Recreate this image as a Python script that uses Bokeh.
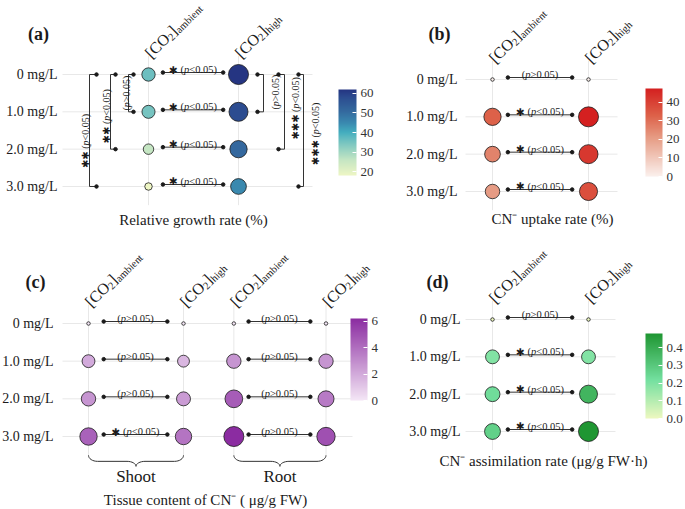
import math
from bokeh.plotting import figure
from bokeh.models import (Range1d, FixedTicker, Label, ColorBar, LinearColorMapper,
                          ColumnDataSource, PrintfTickFormatter, Grid)
from bokeh.layouts import row, column
from bokeh.embed import file_html
from bokeh.resources import INLINE

# ---------------- data ----------------
conc_labels = ["0 mg/L", "1.0 mg/L", "2.0 mg/L", "3.0 mg/L"]
rows = [0, 1, 2, 3]

# (a) Relative growth rate (%)
rgr_ambient = [36, 35, 26, 18]
rgr_high = [62, 58, 51, 45]
rgr_pair_sig = ["*", "*", "*", "*"]
rgr_pair_p = ["p<0.05", "p<0.05", "p<0.05", "p<0.05"]
rgr_ambient_brackets = [(0, 1, "", "p>0.05"), (0, 2, "**", "p<0.05"), (0, 3, "**", "p<0.05")]
rgr_high_brackets = [(0, 1, "", "p>0.05"), (0, 2, "***", "p<0.05"), (0, 3, "***", "p<0.05")]
rgr_ticks = [20, 30, 40, 50, 60]

# (b) CN- uptake rate (%)
upt_ambient = [0, 33, 26, 21]
upt_high = [0, 47.5, 42, 37]
upt_pair_sig = ["", "*", "*", "*"]
upt_pair_p = ["p>0.05", "p<0.05", "p<0.05", "p<0.05"]
upt_ticks = [0, 10, 20, 30, 40]

# (c) Tissue content of CN- (ug/g FW)
tis_shoot_ambient = [0, 2.0, 2.7, 4.4]
tis_shoot_high = [0, 1.6, 2.5, 3.8]
tis_root_ambient = [0, 2.7, 4.6, 6.2]
tis_root_high = [0, 2.7, 3.6, 5.0]
tis_shoot_sig = ["", "", "", "*"]
tis_shoot_p = ["p>0.05", "p>0.05", "p>0.05", "p<0.05"]
tis_root_sig = ["", "", "", ""]
tis_root_p = ["p>0.05", "p>0.05", "p>0.05", "p>0.05"]
tis_ticks = [0, 2, 4, 6]

# (d) CN- assimilation rate (ug/g FW h)
asm_ambient = [0, 0.19, 0.23, 0.27]
asm_high = [0, 0.19, 0.37, 0.48]
asm_pair_sig = ["", "*", "*", "*"]
asm_pair_p = ["p>0.05", "p<0.05", "p<0.05", "p<0.05"]
asm_ticks = [0.0, 0.1, 0.2, 0.3, 0.4]

# ---------------- styling helpers ----------------
SERIF = "Liberation Serif"
SYM = "DejaVu Sans"
INK = "#1a1a1a"
ADV = {' ': 250, '(': 333, ')': 333, '<': 564, '>': 564, '.': 250, '[': 333, ']': 333,
       'C': 667, 'O': 722, 'a': 444, 'm': 778, 'b': 500, 'i': 278, 'e': 444, 'n': 500,
       't': 278, 'h': 500, 'g': 500, 'p': 500}


def adv(t, size, font):
    if font == SYM:
        return sum(0.84 if c != ' ' else 0.318 for c in t) * size
    return sum(ADV.get(c, 500) for c in t) / 1000.0 * size


def ramp(stops, n=256):
    def h2r(h):
        return [int(h[i:i + 2], 16) for i in (1, 3, 5)]
    out = []
    for i in range(n):
        t = i / (n - 1)
        for (t0, c0), (t1, c1) in zip(stops[:-1], stops[1:]):
            if t <= t1 + 1e-12:
                f = (t - t0) / (t1 - t0) if t1 > t0 else 0.0
                a, b = h2r(c0), h2r(c1)
                out.append("#%02x%02x%02x" % tuple(round(a[k] + (b[k] - a[k]) * f) for k in range(3)))
                break
    return out


def run(p, x, y, pieces, angle=0.0, align="center", ox=0.0, oy=0.0, color=INK):
    widths = [adv(t, s, f) for (t, f, s, st, sh) in pieces]
    total = sum(widths)
    d = {"left": 0.0, "center": -total / 2.0, "right": -total}[align]
    ca, sa = math.cos(angle), math.sin(angle)
    for (t, f, s, st, sh), w in zip(pieces, widths):
        xo = ox + d * ca + sh * sa
        yo = oy + d * sa - sh * ca
        p.add_layout(Label(x=x, y=y, x_offset=xo, y_offset=yo, text=t, angle=angle,
                           text_font=f, text_font_size=f"{s}px", text_font_style=st,
                           text_align="left", text_baseline="alphabetic", text_color=color))
        d += w


def p_pieces(stars, ptxt, size=10, ssize=10):
    pp = [("(", SERIF, size, "normal", 0), ("p", SERIF, size, "italic", 0),
          (ptxt[1:] + ")", SERIF, size, "normal", 0)]
    if not stars:
        return pp
    return [("\u2731" * len(stars), SYM, ssize, "normal", 0), (" ", SERIF, size, "normal", 0)] + pp


def diam(v, lo, hi, dmin, dmax, pw):
    t = (v - lo) / (hi - lo)
    return dmin + (dmax - dmin) * (max(t, 0.0) ** pw)


class Panel:
    """One panel; the plot frame fills the whole figure, data units = rows / columns."""

    def __init__(self, w, h, col0, ux, row0, uy, cols, grid_x, label_right):
        self.col0, self.ux, self.row0, self.uy = col0, ux, row0, uy
        p = figure(width=w, height=h, output_backend="svg", toolbar_location=None,
                   x_range=Range1d(-col0 / ux, (w - col0) / ux),
                   y_range=Range1d((h - row0) / uy, -row0 / uy),
                   x_axis_location=None, y_axis_location=None,
                   min_border=0, background_fill_color="white", border_fill_color="white")
        p.outline_line_color = None
        for r in p.center:
            if isinstance(r, Grid):
                r.visible = False
        self.p = p
        self.segs = {"x0": [], "y0": [], "x1": [], "y1": []}
        self.dots = {"x": [], "y": []}
        gx0, gx1 = self.fx(grid_x[0]), self.fx(grid_x[1])
        g = {"x0": [gx0] * len(rows) + list(cols), "x1": [gx1] * len(rows) + list(cols),
             "y0": list(rows) + [-0.5] * len(cols), "y1": list(rows) + [3.5] * len(cols)}
        p.segment(x0="x0", y0="y0", x1="x1", y1="y1", source=ColumnDataSource(g),
                  line_color="#e8e8e8", line_width=1)
        for r, lab in zip(rows, conc_labels):
            p.add_layout(Label(x=self.fx(label_right), y=r, text=lab, text_font=SERIF,
                               text_font_size="14px", text_align="right",
                               text_baseline="middle", text_color=INK))

    def fx(self, px):
        return (px - self.col0) / self.ux

    def fy(self, py):
        return (py - self.row0) / self.uy

    def seg(self, x0, y0, x1, y1):
        for k, v in zip(("x0", "y0", "x1", "y1"), (x0, y0, x1, y1)):
            self.segs[k].append(v)

    def dot(self, x, y):
        self.dots["x"].append(x)
        self.dots["y"].append(y)

    def header(self, xc, sub):
        pieces = [("[CO", SERIF, 16, "normal", 0), ("2", SERIF, 10.5, "normal", 4),
                  ("]", SERIF, 16, "normal", 0), (sub, SERIF, 10.5, "normal", 4)]
        run(self.p, xc, -0.5, pieces, math.pi / 4, "left", -1, 0.5)

    def circles(self, xc, vals, mapper, lo, hi, dmin, dmax, pw):
        src = ColumnDataSource(dict(x=[xc] * len(vals), y=rows, v=vals,
                                    s=[diam(v, lo, hi, dmin, dmax, pw) for v in vals]))
        self.p.scatter("x", "y", size="s", source=src, marker="circle",
                       fill_color={"field": "v", "transform": mapper},
                       line_color=INK, line_width=0.8)

    def pair(self, xa, xb, sigs, ptxts):
        for r, sg, pt in zip(rows, sigs, ptxts):
            x0 = xa + 0.16 * (xb - xa)
            x1 = xa + 0.83 * (xb - xa)
            yb = r - 2.0 / self.uy
            self.seg(x0, yb, x1, yb)
            self.dot(x0, yb)
            self.dot(x1, yb)
            run(self.p, (x0 + x1) / 2.0, r, p_pieces(sg, pt, 10.5, 10.5), 0.0, "center", 0, 5)

    def bracket(self, xc, side, spec, off_line, off_tick, center_off, shift):
        r0, r1, stars, ptxt = spec
        xv = xc + side * off_line / self.ux
        xt = xc + side * off_tick / self.ux
        self.seg(xv, r0, xv, r1)
        self.seg(xv, r0, xt, r0)
        self.seg(xv, r1, xt, r1)
        self.dot(xt, r0)
        self.dot(xt, r1)
        ox = -(center_off - 3.5) if side < 0 else (center_off + 3.5)
        run(self.p, xv, (r0 + r1) / 2.0, p_pieces(stars, ptxt, 10, 10),
            math.pi / 2, "center", ox, shift)

    def finish(self):
        self.p.segment(x0="x0", y0="y0", x1="x1", y1="y1", source=ColumnDataSource(self.segs),
                       line_color="#333333", line_width=1)
        self.p.scatter("x", "y", source=ColumnDataSource(self.dots), size=3.5,
                       marker="circle", color=INK)

    def text(self, fxp, fyp, t, size, style="normal"):
        self.p.add_layout(Label(x=self.fx(fxp), y=self.fy(fyp), text=t, text_font=SERIF,
                                text_font_size=f"{size}px", text_font_style=style,
                                text_align="center", text_baseline="middle", text_color=INK))

    def cbar(self, mapper, ticks, fmt, rx, ry, length, thick=17):
        cb = ColorBar(color_mapper=mapper, location=(rx, ry), width=thick, height=length,
                      padding=0, margin=0, ticker=FixedTicker(ticks=ticks), formatter=fmt,
                      major_label_text_font=SERIF, major_label_text_font_size="13px",
                      major_label_text_color="#333333", label_standoff=4,
                      major_tick_line_color="white", major_tick_in=4, major_tick_out=0,
                      minor_tick_line_color=None, bar_line_color=None,
                      background_fill_color=None, border_line_color=None)
        self.p.add_layout(cb, "center")


def mapper_for(vals, stops):
    return LinearColorMapper(palette=ramp(stops), low=min(vals), high=max(vals))


TOP_H, BOT_H = 240, 268
LEFT_W, RIGHT_W = 400, 284

# ---------------- (a) ----------------
pa = Panel(LEFT_W, TOP_H, col0=148, ux=90, row0=74, uy=37.33, cols=[0, 1], grid_x=(62, 312), label_right=57)
a_all = rgr_ambient + rgr_high
ma = mapper_for(a_all, [(0, "#eef6c4"), (0.18, "#c5e6c3"), (0.41, "#6cbfc0"), (0.5, "#44aebf"),
                        (0.61, "#3a8ab0"), (0.75, "#34699e"), (0.91, "#2c4c90"), (1, "#253582")])
lo, hi = min(a_all), max(a_all)
pa.header(0, "ambient")
pa.header(1, "high")
pa.pair(0, 1, rgr_pair_sig, rgr_pair_p)
for spec, geo in zip(rgr_ambient_brackets, [(20, 15, 6, 0), (38, 33, 7.5, -4.5), (59, 52, 8, -10.5)]):
    pa.bracket(0, -1, spec, *geo)
for spec, geo in zip(rgr_high_brackets, [(25, 19, 8, 1), (46, 40, 7, 3.5), (65, 60, 8, -3.5)]):
    pa.bracket(1, 1, spec, *geo)
pa.finish()
pa.circles(0, rgr_ambient, ma, lo, hi, 7.5, 20, 0.85)
pa.circles(1, rgr_high, ma, lo, hi, 7.5, 20, 0.85)
pa.text(38, 33, "(a)", 18, "bold")
pa.text(193, 219, "Relative growth rate (%)", 15)
pa.cbar(ma, rgr_ticks, PrintfTickFormatter(format="%d"), 338, TOP_H - 175, 86, 18)

# ---------------- (b) ----------------
pb = Panel(RIGHT_W, TOP_H, col0=92, ux=96, row0=79, uy=37.33, cols=[0, 1], grid_x=(65, 217), label_right=57)
b_all = upt_ambient + upt_high
mb = mapper_for(b_all, [(0, "#fbf0ed"), (0.45, "#e69a82"), (0.7, "#dd6048"), (1, "#d42020")])
lo, hi = min(b_all), max(b_all)
pb.header(0, "ambient")
pb.header(1, "high")
pb.pair(0, 1, upt_pair_sig, upt_pair_p)
pb.finish()
pb.circles(0, upt_ambient, mb, lo, hi, 3.5, 20, 0.5)
pb.circles(1, upt_high, mb, lo, hi, 3.5, 20, 0.5)
pb.text(39, 33, "(b)", 18, "bold")
pb.text(152, 218, "CN\u207b uptake rate (%)", 15)
pb.cbar(mb, upt_ticks, PrintfTickFormatter(format="%d"), 245, TOP_H - 176, 88)

# ---------------- (c) ----------------
c_cols = [0, 1, 1.53, 2.5]
pc = Panel(LEFT_W, BOT_H, col0=88, ux=95, row0=83, uy=37.67, cols=c_cols, grid_x=(62, 352), label_right=53)
c_all = tis_shoot_ambient + tis_shoot_high + tis_root_ambient + tis_root_high
mc = mapper_for(c_all, [(0, "#f4e6f6"), (1, "#8b2ca1")])
lo, hi = min(c_all), max(c_all)
for xc, sub in zip(c_cols, ["ambient", "high", "ambient", "high"]):
    pc.header(xc, sub)
pc.pair(c_cols[0], c_cols[1], tis_shoot_sig, tis_shoot_p)
pc.pair(c_cols[2], c_cols[3], tis_root_sig, tis_root_p)
pc.finish()
for xc, vals in zip(c_cols, [tis_shoot_ambient, tis_shoot_high, tis_root_ambient, tis_root_high]):
    pc.circles(xc, vals, mc, lo, hi, 3.5, 20, 0.5)


def brace(pn, xa, xb):
    r = 9.0 / pn.ux
    y0, y1, y2 = 3.5, 3.5 + 6.0 / pn.uy, 3.5 + 11.0 / pn.uy
    xm = (xa + xb) / 2.0
    n = 8
    th = [i * (math.pi / 2) / n for i in range(n + 1)]
    left_x, left_y = [], []
    for t in th:
        left_x.append(xa + r * (1 - math.cos(t))); left_y.append(y0 + (y1 - y0) * math.sin(t))
    for t in th:
        left_x.append(xm - r + r * math.sin(t)); left_y.append(y1 + (y2 - y1) * (1 - math.cos(t)))
    right_x = [xm + (xm - x) for x in reversed(left_x)]
    right_y = list(reversed(left_y))
    pn.p.line(left_x + right_x, left_y + right_y, line_color="#333333", line_width=1)


brace(pc, c_cols[0], c_cols[1])
brace(pc, c_cols[2], c_cols[3])
for xa, xb, name in [(c_cols[0], c_cols[1], "Shoot"), (c_cols[2], c_cols[3], "Root")]:
    pc.p.add_layout(Label(x=(xa + xb) / 2, y=pc.fy(236), text=name, text_font=SERIF,
                          text_font_size="17px", text_align="center", text_baseline="middle",
                          text_color=INK))
pc.text(35, 41, "(c)", 18, "bold")
pc.text(205, 259, "Tissue content of CN\u207b ( \u03bcg/g FW)", 15)
pc.cbar(mc, tis_ticks, PrintfTickFormatter(format="%d"), 350, BOT_H - 160, 82)

# ---------------- (d) ----------------
pd_ = Panel(RIGHT_W, BOT_H, col0=92, ux=96, row0=79, uy=37.33, cols=[0, 1], grid_x=(65, 215), label_right=60)
d_all = asm_ambient + asm_high
md = mapper_for(d_all, [(0, "#edf8c0"), (0.45, "#74e0a0"), (1, "#1f9632")])
lo, hi = min(d_all), max(d_all)
pd_.header(0, "ambient")
pd_.header(1, "high")
pd_.pair(0, 1, asm_pair_sig, asm_pair_p)
pd_.finish()
pd_.circles(0, asm_ambient, md, lo, hi, 3.5, 20, 0.5)
pd_.circles(1, asm_high, md, lo, hi, 3.5, 20, 0.5)
pd_.text(37, 41, "(d)", 18, "bold")
pd_.text(143, 220, "CN\u207b assimilation rate (\u03bcg/g FW\u00b7h)", 15)
pd_.cbar(md, asm_ticks, PrintfTickFormatter(format="%.1f"), 245, BOT_H - 178, 85)

layout = column(row(pa.p, pb.p), row(pc.p, pd_.p))
open("out.html", "w").write(file_html(layout, INLINE))
